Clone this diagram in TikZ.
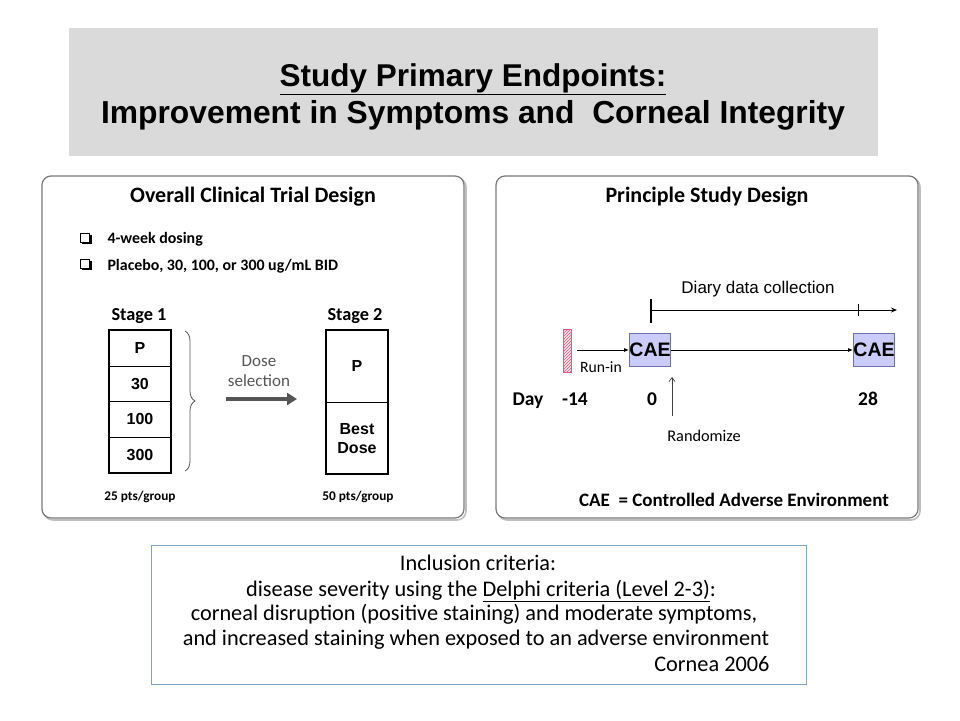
\documentclass[tikz,border=0pt]{standalone}
\usepackage{fontspec}
\setmainfont{Carlito}
\newfontfamily\arial{Liberation Sans}
\usetikzlibrary{arrows.meta,decorations.pathreplacing,patterns}
\definecolor{hdrgray}{RGB}{218,218,218}
\definecolor{panelborder}{RGB}{120,120,120}
\definecolor{panelshadow}{RGB}{190,190,190}
\definecolor{caefill}{RGB}{204,204,250}
\definecolor{caeborder}{RGB}{110,110,170}
\definecolor{hatchred}{RGB}{220,90,130}
\definecolor{hatchfill}{RGB}{252,225,235}
\definecolor{bluebox}{RGB}{125,165,195}
\definecolor{dosegray}{RGB}{85,85,85}
\begin{document}
\begin{tikzpicture}[x=1pt,y=-1pt,
  panel/.style={draw=panelborder,line width=1.2pt,fill=white,rounded corners=9pt},
  pshadow/.style={draw=panelshadow,line width=1.6pt,rounded corners=9pt},
  ptitle/.style={font=\fontsize{22}{26}\selectfont\bfseries,anchor=base},
  bullet/.style={font=\fontsize{15.9}{18}\selectfont\bfseries,anchor=base west},
  stagelbl/.style={font=\fontsize{18.3}{21}\selectfont\bfseries,anchor=base},
  cell/.style={font=\arial\fontsize{16}{19}\selectfont\bfseries},
  small/.style={font=\fontsize{13.3}{15}\selectfont\bfseries,anchor=base},
  tl/.style={font=\fontsize{16}{19}\selectfont,anchor=base},
  daylbl/.style={font=\fontsize{19.5}{22}\selectfont\bfseries,anchor=base},
  cae/.style={draw=caeborder,fill=caefill,line width=0.8pt,minimum width=40pt,minimum height=33pt,inner sep=0pt,font=\arial\fontsize{19.5}{21}\selectfont\bfseries},
  incl/.style={font=\fontsize{22.3}{26}\selectfont,anchor=base},
  chk/.style={draw=black,line width=0.8pt}
]
\useasboundingbox (0,0) rectangle (960,720);

% header
\fill[hdrgray] (69,28) rectangle (878,156);
\node[font=\arial\fontsize{31.5}{36}\selectfont\bfseries,anchor=base] (t1) at (473,86) {\underline{Study Primary Endpoints:}};
\node[font=\arial\fontsize{31.8}{36}\selectfont\bfseries,anchor=base] (t2) at (473,123) {Improvement in Symptoms and\ \ Corneal Integrity};

% left panel
\draw[pshadow] (44,178) rectangle (466,520);
\draw[panel] (42,176) rectangle (464,518);
\node[ptitle] (lt) at (253,202) {Overall Clinical Trial Design};
\foreach \yy in {233,259}{
  \draw[chk] (80,\yy) rectangle (89.5,\yy+9);
  \draw[line width=1.6pt] (91,\yy+1.5) -- (91,\yy+10.5) -- (81.5,\yy+10.5);
}
\node[bullet] (b1) at (104,243) {4-week dosing};
\node[bullet] (b2) at (104,270) {Placebo, 30, 100, or 300 ug/mL BID};

\node[stagelbl] (s1) at (139,320) {Stage 1};
\draw[line width=2pt] (109,330) rectangle (171,473);
\draw[line width=0.8pt] (109,366) -- (171,366) (109,401) -- (171,401) (109,437) -- (171,437);
\node[cell] (cp) at (140,348) {P};
\node[cell] (c30) at (140,384) {30};
\node[cell] (c100) at (140,419) {100};
\node[cell] (c300) at (140,455) {300};
\node[small] (n1) at (140,500) {25 pts/group};

\draw[decorate,decoration={brace,amplitude=10pt},draw=dosegray,line width=0.8pt] (185,331) -- (185,471);
\node[font=\fontsize{17}{19.5}\selectfont,text=dosegray,align=center] (ds) at (259,371) {Dose\\selection};
\coordinate (da) at (226,399);
\coordinate (db) at (297,399);
\draw[dosegray,line width=4pt,-{Triangle[length=10pt,width=12pt]}] (da) -- (db);

\node[stagelbl] (s2) at (355,320) {Stage 2};
\draw[line width=2pt] (326,330) rectangle (388,474);
\draw[line width=0.8pt] (326,402) -- (388,402);
\node[cell] (c2p) at (357,366) {P};
\node[cell,align=center] (cbd) at (357,439) {Best\\Dose};
\node[small] (n2) at (358,500) {50 pts/group};

% right panel
\draw[pshadow] (498,178) rectangle (920,520);
\draw[panel] (496,176) rectangle (918,518);
\node[ptitle] (rt) at (707,202) {Principle Study Design};
\node[font=\arial\fontsize{17}{20}\selectfont,anchor=base] (diary) at (758,293) {Diary data collection};
\coordinate (d0) at (651,310);
\coordinate (d1) at (897,310);
\draw[line width=1pt,-{Stealth[length=6pt,width=5pt]}] (d0) -- (d1);
\draw[line width=1.2pt] (651,299) -- (651,323);
\draw[line width=1pt] (858,304) -- (858,316);

\draw[hatchred,fill=hatchfill,line width=0.6pt] (563,329) rectangle (571,372);
\fill[pattern=north east lines,pattern color=hatchred] (563,329) rectangle (571,372);
\draw[hatchred,line width=0.6pt] (563,329) rectangle (571,372);
\coordinate (ri) at (577,350);

\node[cae] (cae1) at (650,350) {CAE};
\node[cae] (cae2) at (874,350) {CAE};
\draw[line width=0.8pt,-{Latex[length=5pt,width=4pt]}] (ri) -- (cae1.west);
\draw[line width=0.8pt,-{Latex[length=5pt,width=4pt]}] (cae1.east) -- (cae2.west);
\node[tl,font=\fontsize{15.7}{18}\selectfont] (runin) at (601,372) {Run-in};

\node[daylbl] (day) at (528,405) {Day};
\node[daylbl] (m14) at (575,405) {-14};
\node[daylbl] (d0l) at (652,405) {0};
\node[daylbl] (d28) at (868,405) {28};

\coordinate (rb) at (672,416);
\coordinate (rtp) at (672,377);
\draw[line width=0.7pt,draw=black!75,-{Straight Barb[length=4pt,width=6pt]}] (rb) -- (rtp);
\node[tl,font=\fontsize{16.3}{19}\selectfont] (rand) at (704,441) {Randomize};

\node[tl,font=\fontsize{19}{22}\selectfont\bfseries] (caedef) at (734,506) {CAE\ \ = Controlled Adverse Environment};

% inclusion box
\draw[bluebox,line width=0.8pt] (151,545) rectangle (806,684);
\node[incl] (i1) at (478,570) {Inclusion criteria:};
\node[incl] (i2) at (481,596) {disease severity using the \underline{Delphi criteria (Level 2-3)}:};
\node[incl] (i3) at (474,620) {corneal disruption (positive staining) and moderate symptoms,};
\node[incl] (i4) at (476,645) {and increased staining when exposed to an adverse environment};
\node[incl,anchor=base east] (i5) at (773,671) {Cornea 2006};
\end{tikzpicture}
\end{document}
